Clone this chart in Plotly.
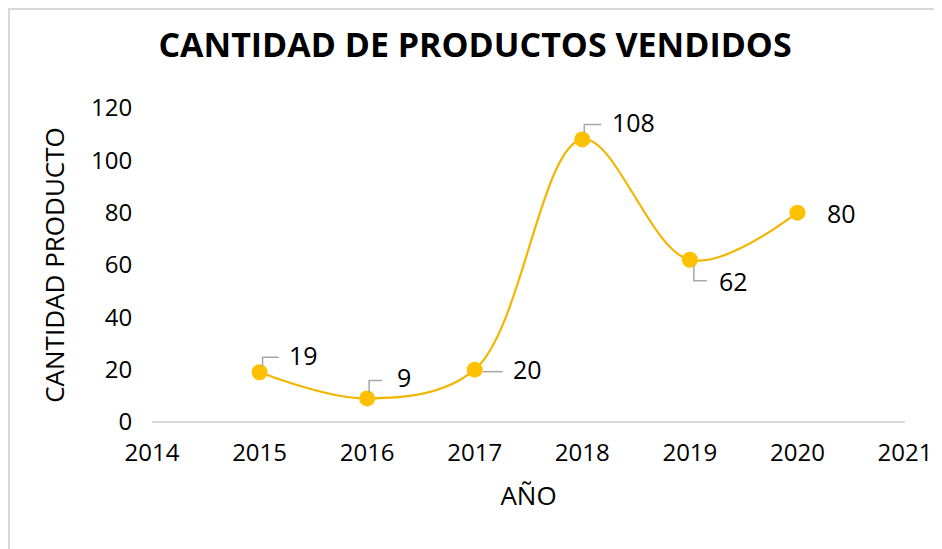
import plotly.graph_objects as go

years = [2015, 2016, 2017, 2018, 2019, 2020]
sales = [19, 9, 20, 108, 62, 80]
x_ticks = [2014, 2015, 2016, 2017, 2018, 2019, 2020, 2021]
y_ticks = [0, 20, 40, 60, 80, 100, 120]

# label placement (pixel offsets relative to each point) and leader paths
label_dx = [27, 28, 36, 28, 27, 28]
label_dy = [17, 21, 1, 17, -21, 0]
leaders = ["M 3,6 L 3,15 L 19,15",
           "M 2,6 L 2,18 L 15,18",
           "M 8,-2 L 28,-2",
           "M 2,7 L 2,15 L 19,15",
           "M 4,-6 L 4,-21 L 17,-21",
           None]

FONT = "Ink Free, Comic Sans MS, Open Sans, sans-serif"
LINE_COLOR = "#F2B600"
MARKER_COLOR = "#FFC000"

# the page adds an 8px body margin, so the figure is sized/placed to compensate
W, H = 934, 541
ML, MR, MT, MB = 144, 37, 100, 127
PW, PH = W - ML - MR, H - MT - MB

fig = go.Figure()
fig.add_trace(go.Scatter(
    x=years, y=sales, mode="lines+markers",
    line=dict(color=LINE_COLOR, width=2.2, shape="spline", smoothing=1),
    marker=dict(color=MARKER_COLOR, size=16, line=dict(width=0)),
    hoverinfo="x+y", showlegend=False,
))

annotations = []
shapes = []
for x, y, dx, dy, path in zip(years, sales, label_dx, label_dy, leaders):
    annotations.append(dict(
        x=x, y=y, xref="x", yref="y", text=str(y), showarrow=False,
        xanchor="left", yanchor="middle", xshift=dx, yshift=dy,
        font=dict(family=FONT, size=25, color="#000000"),
    ))
    if path:
        shapes.append(dict(
            type="path", xref="x", yref="y", xsizemode="pixel", ysizemode="pixel",
            xanchor=x, yanchor=y, path=path,
            line=dict(color="#A6A6A6", width=1.5),
        ))

# chart border (left and top visible)
shapes.append(dict(type="rect", xref="paper", yref="paper",
                   x0=(1 - ML) / PW, x1=1.3, y0=-0.6, y1=1 + (MT - 1) / PH,
                   line=dict(color="#D9D9D9", width=2), layer="below"))

fig.update_layout(
    width=W, height=H,
    paper_bgcolor="white", plot_bgcolor="white",
    margin=dict(l=ML, r=MR, t=MT, b=MB, autoexpand=False),
    title=dict(text="CANTIDAD DE PRODUCTOS VENDIDOS", x=0.5, xanchor="center",
               y=1 - 37 / H, yanchor="middle",
               font=dict(family=FONT, size=34, color="#000000", weight="bold")),
    font=dict(family=FONT, color="#000000"),
    annotations=annotations, shapes=shapes,
)
fig.update_xaxes(
    range=[2014, 2021], tickvals=x_ticks, ticktext=[str(t) for t in x_ticks],
    showgrid=False, zeroline=False, showline=False,
    ticks="outside", ticklen=9, tickcolor="rgba(0,0,0,0)",
    tickfont=dict(family=FONT, size=24, color="#000000"),
    title=dict(text="AÑO", font=dict(family=FONT, size=26, color="#000000"), standoff=20),
)
fig.update_yaxes(
    range=[0, 120], tickvals=y_ticks,
    showgrid=False, zeroline=True, zerolinecolor="#D9D9D9", zerolinewidth=2,
    showline=False,
    ticks="outside", ticklen=14, tickcolor="rgba(0,0,0,0)",
    tickfont=dict(family=FONT, size=24, color="#000000"),
    title=dict(text="CANTIDAD PRODUCTO", font=dict(family=FONT, size=26, color="#000000"), standoff=18),
)

fig.write_html("out.html")
